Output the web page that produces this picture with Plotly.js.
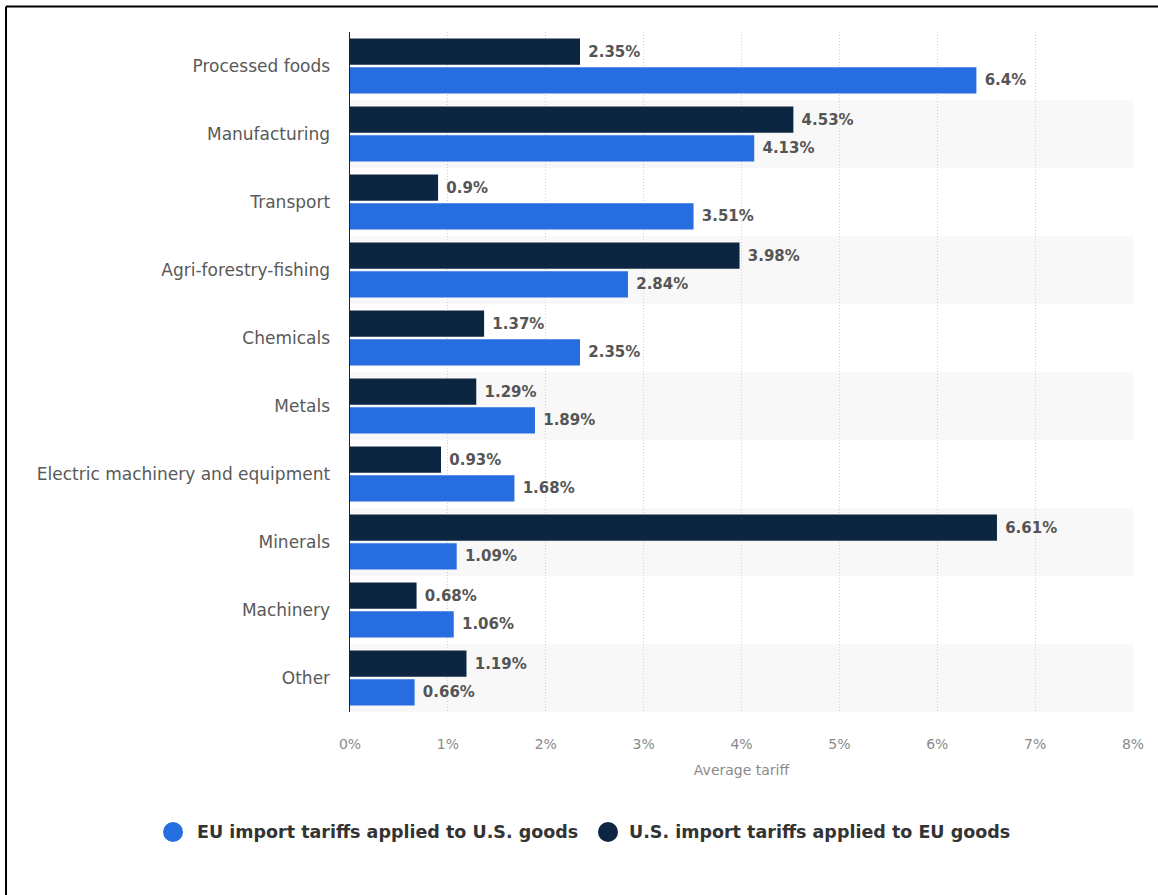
<!DOCTYPE html>
<html>
<head>
<meta charset="utf-8">
<script src="https://cdn.plot.ly/plotly-3.0.1.min.js"></script>
<style>
html,body{margin:0;padding:0;background:#fff;}
#chart{width:1158px;height:895px;}
</style>
</head>
<body>
<div id="chart"></div>
<script>
const categories = ["Processed foods","Manufacturing","Transport","Agri-forestry-fishing","Chemicals","Metals","Electric machinery and equipment","Minerals","Machinery","Other"];
const usTariffs = [2.35,4.53,0.9,3.98,1.37,1.29,0.93,6.61,0.68,1.19];
const euTariffs = [6.4,4.13,3.51,2.84,2.35,1.89,1.68,1.09,1.06,0.66];
const xTickVals = [0,1,2,3,4,5,6,7,8];
const xTickText = ["0%","1%","2%","3%","4%","5%","6%","7%","8%"];
const seriesNames = ["EU import tariffs applied to U.S. goods","U.S. import tariffs applied to EU goods"];

const blue = "#266de0";
const navy = "#0c2641";
const labelFont = {family:"DejaVu Sans", size:15, color:"#555555", weight:"bold"};

const traces = [
  {type:"bar", orientation:"h", y:categories, x:usTariffs, name:seriesNames[1],
   marker:{color:navy, line:{width:0}}, text:usTariffs.map(v=>"\u00a0"+v+"%"),
   textposition:"outside", textfont:labelFont, cliponaxis:false, showlegend:false, hoverinfo:"x+y"},
  {type:"bar", orientation:"h", y:categories, x:euTariffs, name:seriesNames[0],
   marker:{color:blue, line:{width:0}}, text:euTariffs.map(v=>"\u00a0"+v+"%"),
   textposition:"outside", textfont:labelFont, cliponaxis:false, showlegend:false, hoverinfo:"x+y"}
];

const shapes = [];
categories.forEach((c,i)=>{
  if(i%2===1){
    shapes.push({type:"rect", xref:"paper", yref:"y", x0:0, x1:1, y0:i-0.5, y1:i+0.5,
      fillcolor:"#f8f8f8", line:{width:0}, layer:"below"});
  }
});
// page frame (left and top)
shapes.push({type:"line", xref:"paper", yref:"paper", x0:-0.4393, x1:-0.4393, y0:1.0375, y1:-0.28, line:{color:"#000", width:2}});
shapes.push({type:"line", xref:"paper", yref:"paper", x0:-0.4393, x1:1.04, y0:1.0375, y1:1.0375, line:{color:"#000", width:2}});

// legend (circle markers + labels)
const legendY = -0.1765;
const legendItems = [
  {name:seriesNames[0], color:blue, cx:-0.2260, tx:-0.1980},
  {name:seriesNames[1], color:navy, cx:0.3295, tx:0.3538}
];
const annotations = [];
legendItems.forEach(it=>{
  shapes.push({type:"circle", xref:"paper", yref:"paper", xsizemode:"pixel", ysizemode:"pixel",
    xanchor:it.cx, yanchor:legendY, x0:-10, x1:10, y0:-10, y1:10,
    fillcolor:it.color, line:{width:0}});
  annotations.push({xref:"paper", yref:"paper", x:it.tx, y:legendY, xanchor:"left", yanchor:"middle",
    showarrow:false, text:it.name, font:{family:"DejaVu Sans", size:17.5, color:"#333333", weight:"bold"}});
});

const layout = {
  width:1158, height:895,
  margin:{l:350, r:25, t:32, b:183},
  paper_bgcolor:"#ffffff", plot_bgcolor:"rgba(0,0,0,0)",
  barmode:"group", bargap:0.16, bargroupgap:0.08,
  font:{family:"DejaVu Sans", color:"#595959"},
  xaxis:{range:[0,8], tickvals:xTickVals, ticktext:xTickText, showgrid:true,
    gridcolor:"#d0d0d0", griddash:"1px,2px", gridwidth:1, zeroline:false, showline:false,
    ticks:"", ticklabelstandoff:22, tickfont:{family:"DejaVu Sans", size:14, color:"#8a8a8a"},
    title:{text:"Average tariff", font:{family:"DejaVu Sans", size:14, color:"#8a8a8a"}, standoff:14},
    fixedrange:true},
  yaxis:{type:"category", autorange:"reversed", showgrid:false, zeroline:false,
    showline:true, linecolor:"#222", linewidth:1.5, ticks:"", ticklabelstandoff:15,
    tickfont:{family:"DejaVu Sans", size:17, color:"#595959"}, fixedrange:true},
  shapes:shapes,
  annotations:annotations,
  showlegend:false
};

Plotly.newPlot("chart", traces, layout, {displayModeBar:false, staticPlot:true});
</script>
</body>
</html>
